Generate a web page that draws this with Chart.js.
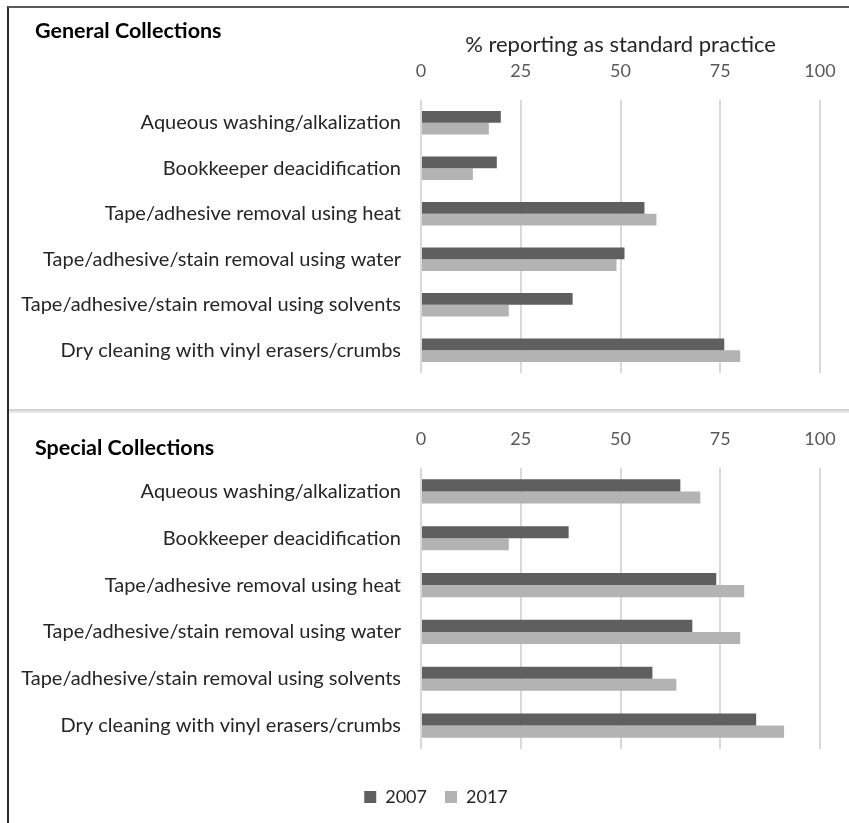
<!DOCTYPE html>
<html>
<head>
<meta charset="utf-8">
<script src="https://cdn.jsdelivr.net/npm/chart.js@4.4.0/dist/chart.umd.min.js"></script>
<style>
  html, body { margin: 0; padding: 0; background: #fff; width: 849px; height: 823px; overflow: hidden; }
  #frame { position: absolute; left: 7px; top: 6px; width: 900px; height: 900px;
           border-left: 2px solid #2a2a2a; border-top: 2px solid #5b5b5b; }
  #rule { position: absolute; left: 9px; top: 409px; width: 840px; height: 0;
          border-top: 2px solid #d4d4d4; border-bottom: 2px solid #e8e8e8; }
  .panel { position: absolute; left: 0; width: 849px; }
  #panelGeneral { top: 0; height: 405px; }
  #panelSpecial { top: 414px; height: 409px; }
  .heading { position: absolute; left: 35px; font: bold 21.5px Lato, sans-serif; line-height: 24px; color: #000; }
</style>
</head>
<body>
<div id="frame"></div>
<div id="rule"></div>
<div class="panel" id="panelGeneral"><canvas id="chartGeneral" width="849" height="405"></canvas></div>
<div class="panel" id="panelSpecial"><canvas id="chartSpecial" width="849" height="409"></canvas></div>
<div class="heading" style="top:18px">General Collections</div>
<div class="heading" style="top:435px">Special Collections</div>
<script>
// Treatments surveyed, top to bottom
const categories = [
  'Aqueous washing/alkalization',
  'Bookkeeper deacidification',
  'Tape/adhesive removal using heat',
  'Tape/adhesive/stain removal using water',
  'Tape/adhesive/stain removal using solvents',
  'Dry cleaning with vinyl erasers/crumbs'
];
const seriesNames = ['2007', '2017'];

// % reporting as standard practice
const general2007 = [20, 19, 56, 51, 38, 76];
const general2017 = [17, 13, 59, 49, 22, 80];
const special2007 = [65, 37, 74, 68, 58, 84];
const special2017 = [70, 22, 81, 80, 64, 91];

const tickValues = [0, 25, 50, 75, 100];
const axisTitle = '% reporting as standard practice';

const FONT = 'Lato';
Chart.defaults.font.family = FONT;
Chart.defaults.animation = false;

// Centre the legend under the plot rather than under the whole canvas
const legendUnderPlot = {
  id: 'legendUnderPlot',
  afterLayout(chart) {
    if (chart.legend && chart.options.plugins.legend.display) {
      chart.legend.left = 52;
    }
  }
};

function buildChart(canvasId, values2007, values2017, withTitle, withLegend, axisHeight, padding) {
  return new Chart(document.getElementById(canvasId), {
    type: 'bar',
    plugins: [legendUnderPlot],
    data: {
      labels: categories,
      datasets: [
        { label: seriesNames[0], data: values2007, backgroundColor: '#5f5f5f',
          barPercentage: 1, categoryPercentage: 0.515 },
        { label: seriesNames[1], data: values2017, backgroundColor: '#b3b3b3',
          barPercentage: 1, categoryPercentage: 0.515 }
      ]
    },
    options: {
      indexAxis: 'y',
      responsive: false,
      maintainAspectRatio: false,
      layout: { padding: padding },
      plugins: {
        tooltip: { enabled: false },
        legend: {
          display: withLegend,
          position: 'bottom',
          title: { display: true, text: '', font: { size: 10 }, padding: { top: 0, bottom: 9 } },
          labels: { boxWidth: 12, boxHeight: 12, padding: 18, color: '#262626',
                    font: { size: 18, family: FONT } }
        }
      },
      scales: {
        x: {
          position: 'top',
          min: tickValues[0],
          max: tickValues[tickValues.length - 1],
          afterBuildTicks: (scale) => { scale.ticks = tickValues.map(v => ({ value: v })); },
          ticks: { color: '#595959', font: { size: 18 }, padding: 18 },
          grid: { color: '#d9d9d9', lineWidth: 2, drawTicks: false },
          border: { display: false },
          title: { display: withTitle, text: axisTitle, color: '#262626',
                   font: { size: 22 }, padding: { top: 32, bottom: 0 } },
          afterFit: (scale) => {
            scale.height = axisHeight;
            // plot edges are set by layout padding alone
            scale.paddingLeft = 0;
            scale.paddingRight = 0;
          }
        },
        y: {
          grid: { display: false, drawTicks: false },
          border: { display: false },
          ticks: { color: '#262626', font: { size: 20 }, padding: 20 },
          afterFit: (scale) => { scale.width = 421; }
        }
      }
    }
  });
}

buildChart('chartGeneral', general2007, general2017, true, false, 100,
  { left: 0, right: 29, top: 0, bottom: 21 });
buildChart('chartSpecial', special2007, special2017, false, true, 54,
  { left: 0, right: 29, top: 0, bottom: 7 });
</script>
</body>
</html>
